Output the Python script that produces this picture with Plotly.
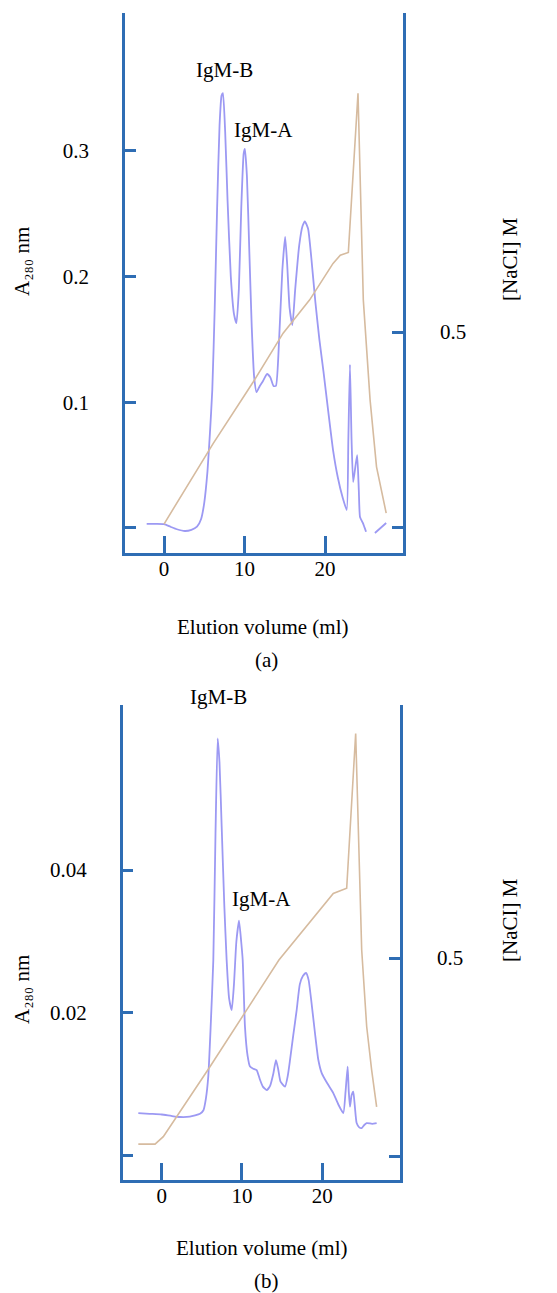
import plotly.graph_objects as go

# ---------------- data: panel (a) ----------------
a_blue_x = [-2.15, -1.0, 0.0, 0.8, 1.6, 2.6, 3.4, 4.1, 4.6, 5.0, 5.4, 5.7, 6.0, 6.3, 6.6, 6.9,
            7.15, 7.32, 7.6, 7.9, 8.3, 8.7, 9.0, 9.3, 9.6, 9.9, 10.05, 10.3, 10.6, 10.9, 11.2,
            11.5, 11.9, 12.3, 12.8, 13.2, 13.6, 13.9, 14.3, 14.7, 15.05, 15.3, 15.6, 15.95,
            16.3, 16.8, 17.2, 17.5, 17.9, 18.3, 18.8, 19.3, 19.8, 20.4, 21.0, 21.6, 22.2, 22.7,
            22.9, 23.1, 23.3, 23.5, 23.8, 24.0, 24.2, 24.35, 24.7, 25.1, None, 26.2, 26.9, 27.6]
a_blue_y = [0.0032, 0.0032, 0.0030, 0.001, -0.001, -0.0024, -0.0015, 0.001, 0.007, 0.02, 0.045,
            0.075, 0.11, 0.175, 0.255, 0.32, 0.344, 0.346, 0.315, 0.26, 0.2, 0.17, 0.163, 0.19,
            0.255, 0.298, 0.3015, 0.28, 0.22, 0.16, 0.12, 0.108, 0.113, 0.117, 0.1225, 0.12,
            0.113, 0.113, 0.15, 0.205, 0.2315, 0.21, 0.175, 0.1615, 0.19, 0.225, 0.24, 0.244,
            0.238, 0.215, 0.18, 0.15, 0.125, 0.093, 0.062, 0.04, 0.024, 0.0143, 0.07, 0.130,
            0.07, 0.0366, 0.05, 0.058, 0.03, 0.0088, 0.004, -0.003, None, -0.004, 0.0, 0.004]
a_brown_x = [0.0, 6.12, 11.1, 14.8, 18.1, 21.0, 21.9, 22.9, 24.1, 24.76, 25.6, 26.4, 27.6]
a_brown_y = [0.010, 0.216, 0.373, 0.497, 0.582, 0.675, 0.696, 0.703, 1.109, 0.582, 0.327,
             0.156, 0.038]

# ---------------- data: panel (b) ----------------
b_blue_x = [-2.91, -1.5, 0.0, 1.2, 2.28, 3.5, 4.77, 5.2, 5.5, 5.8, 6.1, 6.43, 6.7, 6.97, 7.2,
            7.47, 7.8, 8.09, 8.4, 8.72, 9.0, 9.3, 9.63, 9.9, 10.09, 10.37, 10.7, 11.0, 11.4,
            11.83, 12.2, 12.6, 13.08, 13.5, 13.9, 14.23, 14.5, 14.8, 15.36, 15.7, 15.98, 16.4,
            16.81, 17.2, 17.6, 17.97, 18.3, 18.6, 19.09, 19.5, 19.93, 20.6, 21.37, 22.0, 22.62,
            22.9, 23.16, 23.3, 23.45, 23.65, 23.86, 24.05, 24.28, 24.6, 24.91, 25.2, 25.53,
            26.2, 26.77]
b_blue_y = [0.0060, 0.0059, 0.0058, 0.0056, 0.00545, 0.0055, 0.0059, 0.0064, 0.008, 0.0111,
            0.0181, 0.0274, 0.045, 0.0584, 0.055, 0.0461, 0.035, 0.0274, 0.022, 0.0204, 0.024,
            0.030, 0.0329, 0.030, 0.0274, 0.0181, 0.0140, 0.0125, 0.0122, 0.0120, 0.0108,
            0.0097, 0.0092, 0.0098, 0.0115, 0.0134, 0.0122, 0.0104, 0.0097, 0.0112, 0.0134,
            0.017, 0.0204, 0.0240, 0.0252, 0.0256, 0.0246, 0.022, 0.0172, 0.0135, 0.0116,
            0.0102, 0.0088, 0.0072, 0.0060, 0.009, 0.0125, 0.009, 0.0069, 0.0085, 0.0090,
            0.007, 0.0046, 0.0040, 0.0039, 0.0043, 0.0046, 0.0045, 0.0046]
b_brown_x = [-2.91, -0.83, 0.2, 6.01, 10.59, 14.6, 21.37, 23.04, 24.16, 24.91, 25.53, 26.15, 26.77]
b_brown_y = [0.030, 0.030, 0.049, 0.2255, 0.369, 0.495, 0.663, 0.676, 1.067, 0.52, 0.327,
             0.217, 0.124]

x_ticks = [0, 10, 20]
x_ticktext = ["0", "10", "20"]
a_left_ticks = [0.1, 0.2, 0.3]
a_left_text = ["0.1", "0.2", "0.3"]
b_left_ticks = [0.02, 0.04]
b_left_text = ["0.02", "0.04"]
right_ticks = [0.5]
right_text = ["0.5"]
base_tick = [0]

OFF = 8                      # browser default body margin
W, H = 557 - OFF, 1293 - OFF
AXC = "#2e6db4"
BLUE = "#9c99f3"
BROWN = "#d6bb9f"
FONT = "Liberation Serif, Times New Roman, DejaVu Serif, serif"
FS = 21

fig = go.Figure()
fig.add_trace(go.Scatter(x=a_blue_x, y=a_blue_y, mode="lines", xaxis="x", yaxis="y",
                         line=dict(color=BLUE, width=1.8, shape="spline", smoothing=0.5),
                         connectgaps=False, showlegend=False))
fig.add_trace(go.Scatter(x=a_brown_x, y=a_brown_y, mode="lines", xaxis="x", yaxis="y2",
                         line=dict(color=BROWN, width=1.6), showlegend=False))
fig.add_trace(go.Scatter(x=b_blue_x, y=b_blue_y, mode="lines", xaxis="x2", yaxis="y3",
                         line=dict(color=BLUE, width=1.8, shape="spline", smoothing=0.5),
                         showlegend=False))
fig.add_trace(go.Scatter(x=b_brown_x, y=b_brown_y, mode="lines", xaxis="x2", yaxis="y4",
                         line=dict(color=BROWN, width=1.6), showlegend=False))


def px(v):
    return (v - OFF) / W


def py(v):
    return 1 - (v - OFF) / H


common = dict(showline=True, linecolor=AXC, linewidth=2.5, ticks="inside", tickcolor=AXC,
              tickwidth=2.5, showgrid=False, zeroline=False, mirror=False,
              tickfont=dict(family=FONT, size=FS, color="black"), fixedrange=True)

xa = dict(common, tickmode="array", tickvals=x_ticks, ticktext=x_ticktext, ticklen=17,
          ticklabelstandoff=-5)
yminor = dict(tickmode="array", tickvals=base_tick, ticks="inside", ticklen=11,
              tickwidth=2.5, tickcolor=AXC, showgrid=False)
yl = dict(common, tickmode="array", ticklen=11, ticklabelstandoff=29, minor=yminor)
yr = dict(common, tickmode="array", ticklen=11, ticklabelstandoff=30, minor=yminor)

fig.update_layout(
    width=W, height=H, margin=dict(l=0, r=0, t=0, b=0),
    paper_bgcolor="white", plot_bgcolor="white",
    font=dict(family=FONT, size=FS, color="black"),
    xaxis=dict(xa, domain=[px(125), px(403)], range=[-4.845, 29.69], anchor="y"),
    yaxis=dict(yl, domain=[py(553), py(13)], range=[-0.0199, 0.4097], anchor="x",
               tickvals=a_left_ticks, ticktext=a_left_text),
    yaxis2=dict(yr, overlaying="y", side="right", anchor="x", range=[-0.0638, 1.3138],
                tickvals=right_ticks, ticktext=right_text),
    xaxis2=dict(xa, domain=[px(122.7), px(400)], range=[-4.857, 29.68], anchor="y3"),
    yaxis3=dict(yl, domain=[py(1180), py(705)], range=[-0.00336, 0.06308], anchor="x2",
                tickvals=b_left_ticks, ticktext=b_left_text),
    yaxis4=dict(yr, overlaying="y3", side="right", anchor="x2", range=[-0.0606, 1.1389],
                tickvals=right_ticks, ticktext=right_text),
)


def ann(text, x, y, angle=0):
    fig.add_annotation(text=text, x=px(x), y=py(y), xref="paper", yref="paper",
                       showarrow=False, textangle=angle, xanchor="center", yanchor="middle",
                       font=dict(family=FONT, size=FS, color="black"))


Y_TITLE = "A\u2082\u2088\u2080 nm"

# panel (a) texts
ann("IgM-B", 224, 70)
ann("IgM-A", 263, 130)
ann(Y_TITLE, 22, 262, -90)
ann("[NaCI] M", 510, 259, -90)
ann("Elution volume (ml)", 262, 627)
ann("(a)", 266, 660)
# panel (b) texts
ann("IgM-B", 218, 697)
ann("IgM-A", 261, 899)
ann(Y_TITLE, 22, 990, -90)
ann("[NaCI] M", 510, 920, -90)
ann("Elution volume (ml)", 261, 1248)
ann("(b)", 266, 1281)

fig.write_html("out.html")
